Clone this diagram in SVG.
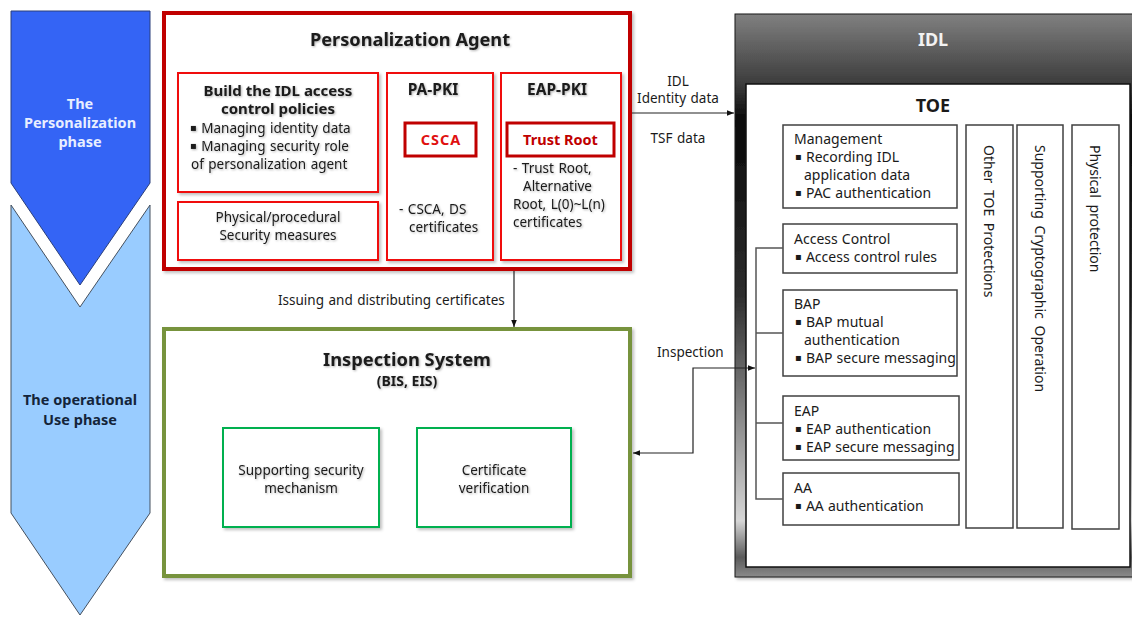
<svg xmlns="http://www.w3.org/2000/svg" width="1132" height="617" viewBox="0 0 1132 617">
  <defs>
    <style>
      text { font-family: "Noto Sans", "DejaVu Sans", sans-serif; fill: #1a1a1a; }
      .t13 { font-size: 13.5px; word-spacing: 1px; }
      .t14 { font-size: 14px; word-spacing: 0.5px; }
      .vert { font-size: 14px; word-spacing: 3px; }
      .bul { font-family: "DejaVu Sans", sans-serif; font-size: 10px; baseline-shift: 2.5px; }
      .bold { font-weight: bold; }
      .mid { text-anchor: middle; }
      .red-box { fill: #fff; stroke: #f01010; stroke-width: 2; filter: url(#shadow); }
      .root-box { fill: #fff; stroke: #c00000; stroke-width: 3; }
      .green-box { fill: #fff; stroke: #00b050; stroke-width: 2; filter: url(#shadow); }
      .toe-box { fill: #fff; stroke: #404040; stroke-width: 1.5; }
      .wire { fill: none; stroke: #222; stroke-width: 1.2; }
      .bracket { fill: none; stroke: #555; stroke-width: 1.5; }
      .soft { filter: url(#glow); }
    </style>
    <filter id="shadow" x="-10%" y="-10%" width="125%" height="125%">
      <feDropShadow dx="2" dy="2" stdDeviation="1.5" flood-color="#000" flood-opacity="0.25"/>
    </filter>
    <filter id="glow" x="-5%" y="-20%" width="110%" height="140%">
      <feDropShadow dx="1" dy="1" stdDeviation="1" flood-color="#000" flood-opacity="0.3"/>
    </filter>
    <linearGradient id="idlFill" x1="0" y1="0" x2="0" y2="1">
      <stop offset="0" stop-color="#808080"/>
      <stop offset="0.124" stop-color="#3c3c3c"/>
      <stop offset="0.19" stop-color="#080808"/>
      <stop offset="0.5" stop-color="#2e2e2e"/>
      <stop offset="0.72" stop-color="#8a8a8a"/>
      <stop offset="0.9" stop-color="#d6d6d6"/>
      <stop offset="0.965" stop-color="#5a5a5a"/>
      <stop offset="1" stop-color="#8a8a8a"/>
    </linearGradient>
    <marker id="arrow" viewBox="0 0 10 10" refX="10" refY="5" markerWidth="7" markerHeight="7" orient="auto-start-reverse" markerUnits="userSpaceOnUse">
      <path d="M0,1 L10,5 L0,9 Z" fill="#111"/>
    </marker>
  </defs>

  <!-- phase chevrons -->
  <g id="phase-personalization">
    <path d="M11,11 L150,11 L150,183 L80,285 L11,183 Z" fill="#3464f5" stroke="#2a3f7a" stroke-width="1"/>
    <text class="bold mid" font-size="14.5" style="fill:#e8eeff" x="80" y="109">The</text>
    <text class="bold mid" font-size="14.5" style="fill:#e8eeff" x="80" y="128">Personalization</text>
    <text class="bold mid" font-size="14.5" style="fill:#e8eeff" x="80" y="147">phase</text>
  </g>
  <g id="phase-operational">
    <path d="M11,205 L80,307 L150,205 L150,513 L80,615 L11,513 Z" fill="#99ccff" stroke="#45505e" stroke-width="1"/>
    <text class="bold mid" font-size="14.5" style="fill:#14243a" x="80" y="405">The operational</text>
    <text class="bold mid" font-size="14.5" style="fill:#14243a" x="80" y="425">Use phase</text>
  </g>

  <!-- Personalization Agent -->
  <g id="personalization-agent">
    <rect x="164" y="13" width="466" height="256" fill="#fff" stroke="#c00000" stroke-width="4" filter="url(#shadow)"/>
    <text class="bold mid soft" font-size="18.2" x="410" y="46">Personalization Agent</text>
  </g>
  <g id="access-policies">
    <rect class="red-box" x="178" y="73" width="200" height="119"/>
    <text class="bold mid soft" font-size="15" x="278" y="96">Build the IDL access</text>
    <text class="bold mid soft" font-size="15" x="278" y="114">control policies</text>
    <text class="t13 soft" x="190" y="133"><tspan class="bul">▪</tspan> Managing identity data</text>
    <text class="t13 soft" x="190" y="151"><tspan class="bul">▪</tspan> Managing security role</text>
    <text class="t13 soft" x="191" y="169">of personalization agent</text>
  </g>
  <g id="security-measures">
    <rect class="red-box" x="178" y="202" width="200" height="58"/>
    <text class="t13 mid soft" x="278" y="222">Physical/procedural</text>
    <text class="t13 mid soft" x="278" y="240">Security measures</text>
  </g>
  <g id="pa-pki">
    <rect class="red-box" x="387" y="73" width="106" height="187"/>
    <text class="bold mid soft" font-size="15.5" x="433" y="95">PA-PKI</text>
    <text class="t13 soft" x="399" y="214">- CSCA, DS</text>
    <text class="t13 soft" x="409" y="232">certificates</text>
  </g>
  <g id="csca">
    <rect class="root-box" x="405" y="123" width="71" height="33"/>
    <text class="bold mid" font-size="14.5" style="fill:#e01010; letter-spacing:1px" x="441" y="145">CSCA</text>
  </g>
  <g id="eap-pki">
    <rect class="red-box" x="501" y="73" width="120" height="187"/>
    <text class="bold mid soft" font-size="15.5" x="557" y="95">EAP-PKI</text>
    <text class="t13 soft" x="513" y="173">- Trust Root,</text>
    <text class="t13 soft" x="523" y="191">Alternative</text>
    <text class="t13 soft" x="513" y="209">Root, L(0)~L(n)</text>
    <text class="t13 soft" x="513" y="227">certificates</text>
  </g>
  <g id="trust-root">
    <rect class="root-box" x="507" y="123" width="107" height="33"/>
    <text class="bold mid" font-size="14.5" style="fill:#c00000" x="560.5" y="145">Trust Root</text>
  </g>

  <!-- Inspection System -->
  <g id="inspection-system">
    <rect x="164" y="329" width="466" height="247" fill="#fff" stroke="#77933c" stroke-width="4" filter="url(#shadow)"/>
    <text class="bold mid soft" font-size="18.3" x="407" y="366">Inspection System</text>
    <text class="bold mid soft" font-size="14" x="407" y="386">(BIS, EIS)</text>
  </g>
  <g id="support-mechanism">
    <rect class="green-box" x="223" y="428" width="156" height="99"/>
    <text class="t13 mid soft" x="301" y="475">Supporting security</text>
    <text class="t13 mid soft" x="301" y="493">mechanism</text>
  </g>
  <g id="cert-verification">
    <rect class="green-box" x="417" y="428" width="154" height="99"/>
    <text class="t13 mid soft" x="494" y="475">Certificate</text>
    <text class="t13 mid soft" x="494" y="493">verification</text>
  </g>

  <!-- IDL and TOE -->
  <g id="idl">
    <rect x="735" y="14" width="400" height="563" fill="url(#idlFill)" stroke="#1a1a1a" stroke-width="1" filter="url(#shadow)"/>
    <text class="bold mid" font-size="18" style="fill:#f2f2f2" x="933" y="46">IDL</text>
  </g>
  <g id="toe">
    <rect x="746" y="84" width="384" height="483" fill="#fff" stroke="#111" stroke-width="1.5"/>
    <text class="bold mid" font-size="18" x="933" y="112">TOE</text>
  </g>
  <g id="management">
    <rect class="toe-box" x="783" y="125" width="174" height="83"/>
    <text class="t14" x="794" y="144">Management</text>
    <text class="t14" x="795" y="162"><tspan class="bul">▪</tspan> Recording IDL</text>
    <text class="t14" x="804" y="180">application data</text>
    <text class="t14" x="795" y="198"><tspan class="bul">▪</tspan> PAC authentication</text>
  </g>
  <g id="access-control">
    <rect class="toe-box" x="783" y="224" width="174" height="49"/>
    <text class="t14" x="794" y="244">Access Control</text>
    <text class="t14" x="795" y="262"><tspan class="bul">▪</tspan> Access control rules</text>
  </g>
  <g id="bap">
    <rect class="toe-box" x="783" y="290" width="174" height="86"/>
    <text class="t14" x="794" y="309">BAP</text>
    <text class="t14" x="795" y="327"><tspan class="bul">▪</tspan> BAP mutual</text>
    <text class="t14" x="804" y="345">authentication</text>
    <text class="t14" x="795" y="363"><tspan class="bul">▪</tspan> BAP secure messaging</text>
  </g>
  <g id="eap">
    <rect class="toe-box" x="783" y="396" width="176" height="64"/>
    <text class="t14" x="794" y="416">EAP</text>
    <text class="t14" x="795" y="434"><tspan class="bul">▪</tspan> EAP authentication</text>
    <text class="t14" x="795" y="452"><tspan class="bul">▪</tspan> EAP secure messaging</text>
  </g>
  <g id="aa">
    <rect class="toe-box" x="783" y="473" width="176" height="52"/>
    <text class="t14" x="794" y="493">AA</text>
    <text class="t14" x="795" y="511"><tspan class="bul">▪</tspan> AA authentication</text>
  </g>
  <g id="other-protections">
    <rect class="toe-box" x="966" y="125" width="47" height="403"/>
    <text class="vert" transform="translate(989,145) rotate(90)" dy="0.35em">Other TOE Protections</text>
  </g>
  <g id="crypto-operation">
    <rect class="toe-box" x="1017" y="125" width="46" height="403"/>
    <text class="vert" transform="translate(1040,145) rotate(90)" dy="0.35em">Supporting Cryptographic Operation</text>
  </g>
  <g id="physical-protection">
    <rect class="toe-box" x="1072" y="125" width="47" height="404"/>
    <text class="vert" transform="translate(1095,145) rotate(90)" dy="0.35em">Physical protection</text>
  </g>

  <!-- connectors -->
  <g id="connectors">
    <path class="wire" d="M514,271 L514,327" marker-end="url(#arrow)"/>
    <text class="t13" x="278" y="305">Issuing and distributing certificates</text>

    <path class="wire" d="M632,113 L734,113" marker-end="url(#arrow)"/>
    <text class="t13 mid" x="678" y="86">IDL</text>
    <text class="t13 mid" x="678" y="103">Identity data</text>
    <text class="t13 mid" x="678" y="143">TSF data</text>

    <path class="wire" d="M633,453 L693,453 L693,368 L755,368" marker-start="url(#arrow)" marker-end="url(#arrow)"/>
    <text class="t13" x="657" y="357">Inspection</text>

    <path class="bracket" d="M783,248 L756,248 L756,499 L783,499 M756,333 L783,333 M756,423 L783,423"/>
  </g>
</svg>
